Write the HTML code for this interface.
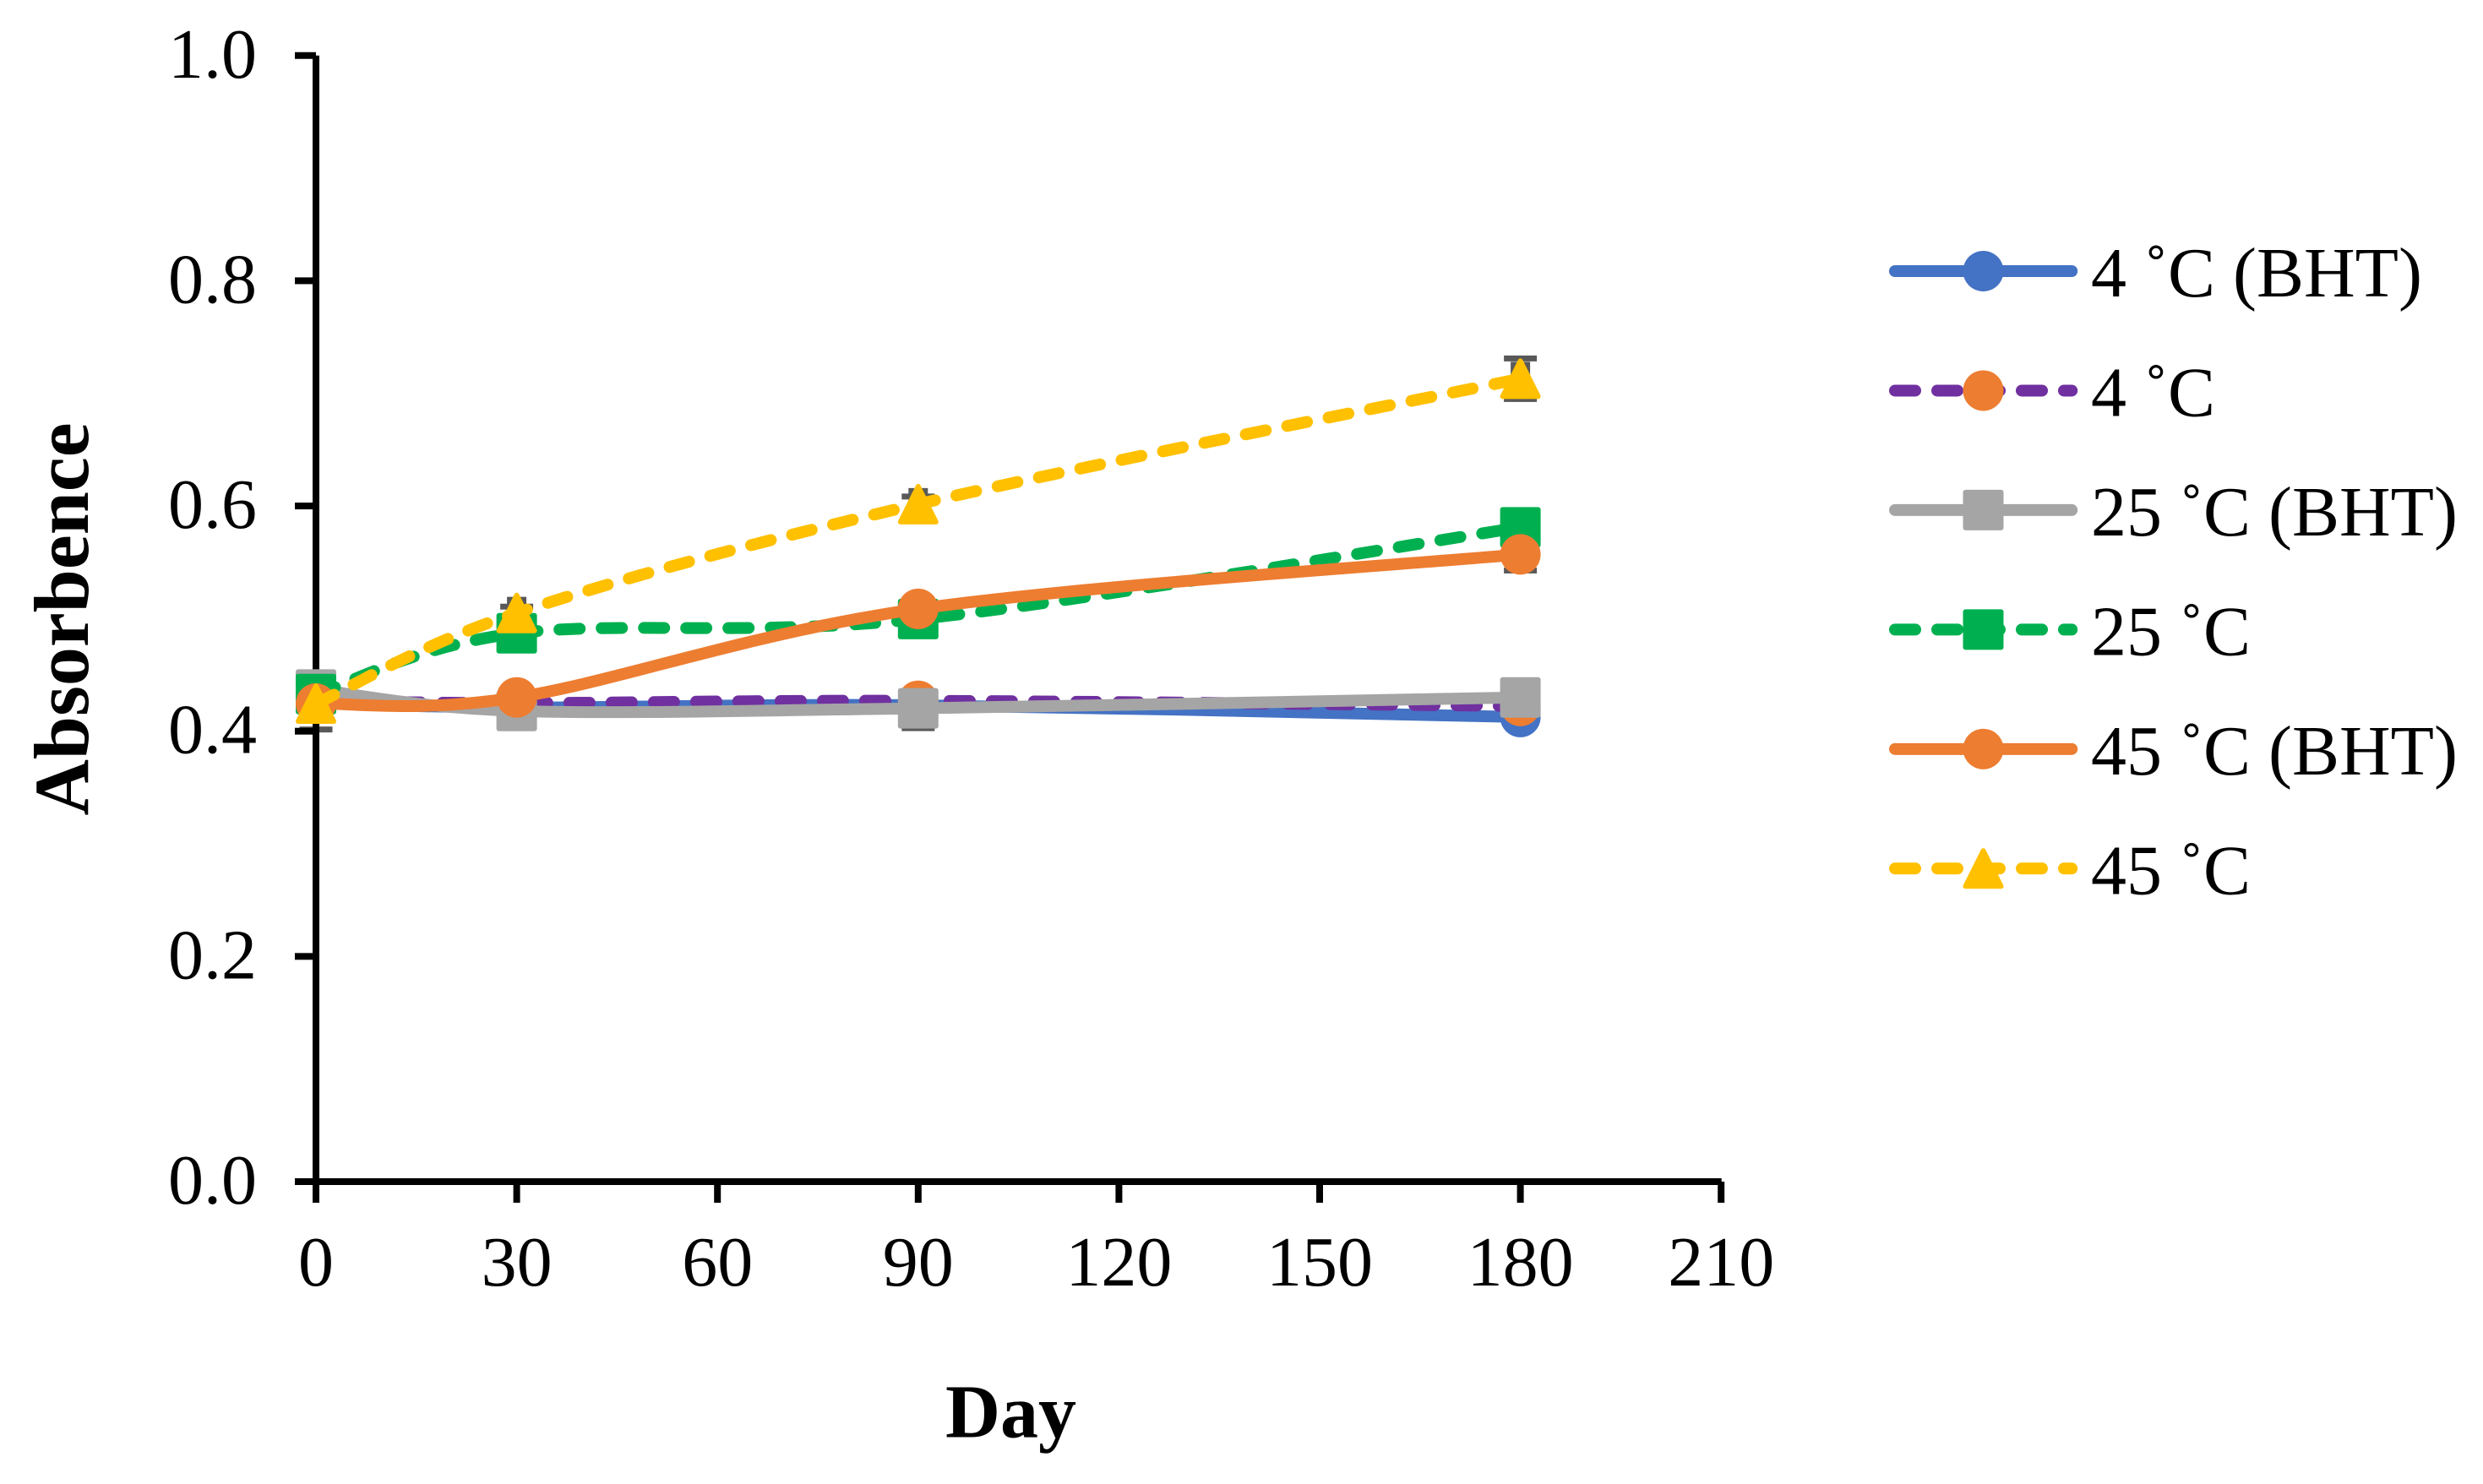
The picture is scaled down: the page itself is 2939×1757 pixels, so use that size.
<!DOCTYPE html>
<html lang="en">
<head>
<meta charset="utf-8">
<title>Absorbence by day</title>
<style>
html,body{margin:0;padding:0;background:#fff;}
svg{display:block;font-family:"Liberation Serif",serif;}
</style>
</head>
<body>
<svg id="chart" xmlns="http://www.w3.org/2000/svg" width="2939" height="1757" viewBox="0 0 2939 1757">
<rect width="2939" height="1757" fill="#ffffff"/>
<text transform="translate(104 733) rotate(-90)" text-anchor="middle" font-size="92" font-weight="bold">Absorbence</text>
<text x="1196.5" y="1701.7" text-anchor="middle" font-size="90" font-weight="bold">Day</text>
</svg>
<script>
const days = [0, 30, 90, 180];
const xTickLabels = [0, 30, 60, 90, 120, 150, 180, 210];
const yTickLabels = ['0.0', '0.2', '0.4', '0.6', '0.8', '1.0'];

const seriesNames = ['4 ˚C (BHT)', '4 ˚C', '25 ˚C (BHT)', '25 ˚C', '45 ˚C (BHT)', '45 ˚C'];
const values4Bht = [0.425, 0.421, 0.423, 0.4126];
const values4 = [0.427, 0.425, 0.427, 0.4224];
const values25Bht = [0.437, 0.418, 0.4203, 0.43];
const values25 = [0.433, 0.487, 0.4996, 0.581];
const values45Bht = [0.4245, 0.43, 0.5086, 0.557];
const values45 = [0.4245, 0.505, 0.6016, 0.713];

const capErrUp25Bht = [0, 0, 0, 0];
const capErrDown25Bht = [0, 0, 0.0176, 0];
const capErrUp45Bht = [0, 0, 0, 0];
const capErrDown45Bht = [0, 0, 0, 0.0143];
const capErrUp45 = [0, 0.0056, 0.0068, 0.018];
const capErrDown45 = [0.023, 0, 0, 0.018];
const stemErr45 = [0, 0.0143, 0.0143, 0.015];

const SVG_NS = 'http://www.w3.org/2000/svg';
const svg = document.getElementById('chart');
const X0 = 374, PX_PER_DAY = 237.6 / 30, Y0 = 1399, PX_PER_UNIT = 1333.25;
function xScale(d) { return X0 + d * PX_PER_DAY; }
function yScale(v) { return Y0 - v * PX_PER_UNIT; }

const colorsLine = ['#4472C4', '#7030A0', '#A5A5A5', '#00B050', '#ED7D31', '#FFC000'];
const colorsMarker = ['#4472C4', '#ED7D31', '#A5A5A5', '#00B050', '#ED7D31', '#FFC000'];
const shapes = ['circle', 'circle', 'square', 'square', 'circle', 'triangle'];
const dashed = [false, true, false, true, false, true];
const slugs = ['4c-bht', '4c', '25c-bht', '25c', '45c-bht', '45c'];
const allValues = [values4Bht, values4, values25Bht, values25, values45Bht, values45];
const capSets = [
  { s: 2, up: capErrUp25Bht, down: capErrDown25Bht },
  { s: 4, up: capErrUp45Bht, down: capErrDown45Bht },
  { s: 5, up: capErrUp45, down: capErrDown45 }
];

function make(tag, attrs, parent) {
  const el = document.createElementNS(SVG_NS, tag);
  for (const k in attrs) el.setAttribute(k, attrs[k]);
  (parent || svg).appendChild(el);
  return el;
}

function drawMarker(cx, cy, shape, color, parent) {
  let el;
  if (shape === 'circle') {
    el = make('circle', { cx: cx, cy: cy, r: 24, fill: color }, parent);
  } else if (shape === 'square') {
    el = make('rect', { x: cx - 24, y: cy - 24, width: 48, height: 48, rx: 3, fill: color }, parent);
  } else {
    const pts = (cx) + ',' + (cy - 21) + ' ' + (cx + 21) + ',' + (cy + 21) + ' ' + (cx - 21) + ',' + (cy + 21);
    el = make('polygon', { points: pts, fill: color, stroke: color, 'stroke-width': 6, 'stroke-linejoin': 'round' }, parent);
  }
  return el;
}

function smoothPath(pts) {
  let d = 'M' + pts[0][0] + ' ' + pts[0][1];
  for (let i = 0; i < pts.length - 1; i++) {
    const p0 = pts[Math.max(i - 1, 0)], p1 = pts[i], p2 = pts[i + 1], p3 = pts[Math.min(i + 2, pts.length - 1)];
    const c1x = p1[0] + (p2[0] - p0[0]) / 6, c1y = p1[1] + (p2[1] - p0[1]) / 6;
    const c2x = p2[0] - (p3[0] - p1[0]) / 6, c2y = p2[1] - (p3[1] - p1[1]) / 6;
    d += ' C' + c1x + ' ' + c1y + ' ' + c2x + ' ' + c2y + ' ' + p2[0] + ' ' + p2[1];
  }
  return d;
}

/* error bars sit behind the axes */
function drawCap(s, i, value) {
  const cap = make('rect', { x: xScale(days[i]) - 19.5, y: yScale(value) - 3.5, width: 39, height: 7, fill: '#595959' });
  
  
}
capSets.forEach(function (set) {
  allValues[set.s].forEach(function (v, i) {
    if (set.up[i] > 0) drawCap(set.s, i, v + set.up[i]);
    if (set.down[i] > 0) drawCap(set.s, i, v - set.down[i]);
  });
});
values45.forEach(function (v, i) {
  const err = stemErr45[i];
  if (err > 0) {
    const stem = make('rect', { x: xScale(days[i]) - 11.5, y: yScale(v + err), width: 23, height: yScale(v) - yScale(v + err), fill: '#595959' });
    
    
  }
});

/* axes */
const yAxisLine = make('rect', { x: X0 - 4, y: yScale(1), width: 8, height: Y0 - yScale(1) + 25, fill: '#000' });


const xAxisLine = make('rect', { x: X0 - 25, y: Y0 - 4, width: xScale(210) - X0 + 25.5, height: 8, fill: '#000' });



yTickLabels.forEach(function (label) {
  const y = yScale(parseFloat(label));
  const tick = make('rect', { x: X0 - 25, y: y - 4, width: 25, height: 8, fill: '#000' });
  
  
  const t = make('text', { x: 304, y: y + 26, 'text-anchor': 'end', 'font-size': 84 });
  t.textContent = label;
  
  
});
xTickLabels.forEach(function (label) {
  const x = xScale(label);
  const tick = make('rect', { x: x - 4, y: Y0, width: 8, height: 25, fill: '#000' });
  
  
  const t = make('text', { x: x, y: 1522, 'text-anchor': 'middle', 'font-size': 84 });
  t.textContent = label;
  
  
});

/* series, in paint order */
allValues.forEach(function (vals, s) {
  const group = make('g', {});
  
  
  const pts = vals.map(function (v, i) { return [xScale(days[i]), yScale(v)]; });
  const attrs = { d: smoothPath(pts), fill: 'none', stroke: colorsLine[s], 'stroke-width': 14, 'stroke-linecap': 'round', 'stroke-linejoin': 'round' };
  if (dashed[s]) attrs['stroke-dasharray'] = '24 26';
  const line = make('path', attrs, group);
  
  
  pts.forEach(function (p, i) {
    const m = drawMarker(p[0], p[1], shapes[s], colorsMarker[s], group);
    
    
  });
});

/* legend */
const LEGEND_TOP = 321, LEGEND_STEP = 141.46, LEGEND_X1 = 2243, LEGEND_X2 = 2452.2, LEGEND_MID = 2347.5;
seriesNames.forEach(function (name, s) {
  const y = LEGEND_TOP + s * LEGEND_STEP;
  const entry = make('g', {});
  
  
  const attrs = { x1: LEGEND_X1, x2: LEGEND_X2, y1: y, y2: y, stroke: colorsLine[s], 'stroke-width': 14, 'stroke-linecap': 'round' };
  if (dashed[s]) attrs['stroke-dasharray'] = '24 26';
  const sw = make('line', attrs, entry);
  
  
  const mk = drawMarker(LEGEND_MID, y, shapes[s], colorsMarker[s], entry);
  
  
  const t = make('text', { x: 2475, y: y + 30, 'font-size': 84 }, entry);
  t.textContent = name;
  
  
});
</script>
</body>
</html>
